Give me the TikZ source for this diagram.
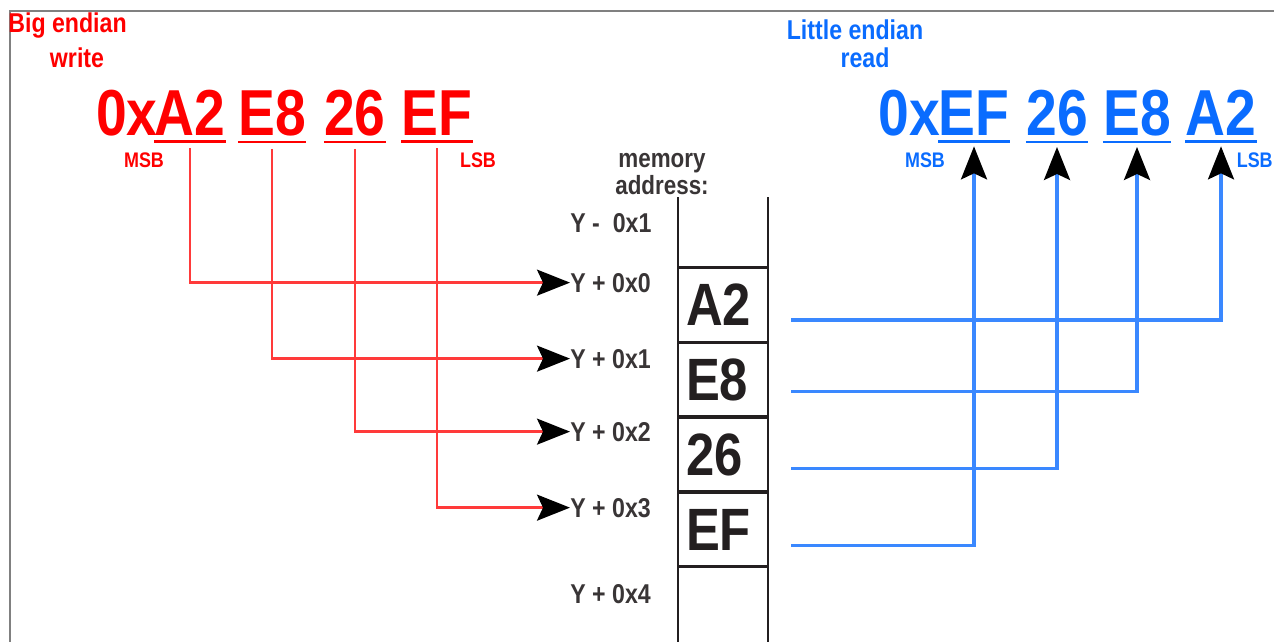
\documentclass[tikz,border=0pt]{standalone}
\usepackage{fontspec}
\setmainfont{Liberation Sans}[FakeStretch=0.85]
\usepackage{tikz}
\usetikzlibrary{arrows.meta,calc}
\definecolor{bered}{HTML}{FF0000}
\definecolor{bewire}{HTML}{FF3A3A}
\definecolor{leblue}{HTML}{0A6CFF}
\definecolor{lewire}{HTML}{3A88FF}
\definecolor{ink}{HTML}{231F20}

\begin{document}
\begin{tikzpicture}[
  x=0.02cm, y=-0.02cm,
  title/.style={anchor=base, inner sep=0, font=\fontsize{15.5}{16}\selectfont\bfseries},
  hexbyte/.style={anchor=base, inner sep=0, font=\fontsize{37}{40}\selectfont\bfseries},
  tag/.style={anchor=base, inner sep=0, font=\fontsize{12}{13}\selectfont\bfseries},
  addr/.style={anchor=base west, inner sep=0, text=ink!90, font=\fontsize{15.5}{16}\selectfont\bfseries},
  memlbl/.style={align=center, inner sep=0, text=ink!90, font=\fontsize{15}{15.9}\selectfont\bfseries},
  cell/.style={draw=ink, line width=1.6pt, minimum width=1.8cm, minimum height=1.49cm, text width=1.48cm, inner xsep=0.16cm, align=left, text=ink, font=\fontsize{34}{36}\selectfont\bfseries},
  uline/.style={line width=1.6pt},
  redarr/.style={bewire, line width=1.4pt, -{Stealth[length=0.66cm, width=0.52cm, inset=0.12cm, color=black]}},
  bluarr/.style={lewire, line width=1.9pt, -{Stealth[length=0.66cm, width=0.52cm, inset=0.12cm, color=black]}}
]
\useasboundingbox (0,0) rectangle (1274,642);
\draw[gray, line width=1.5pt] (10,642) -- (10,11) -- (1274,11);

\node[title, anchor=base west, text=bered] (bet1) at (8,33) {Big endian};
\node[title, text=bered] (bet2) at (77,68) {write};
\node[hexbyte, text=bered] (be0) at (127,135) {0x};
\node[hexbyte, text=bered] (beA2) at (190,135) {A2};
\node[hexbyte, text=bered] (beE8) at (272,135) {E8};
\node[hexbyte, text=bered] (be26) at (355,135) {26};
\node[hexbyte, text=bered] (beEF) at (437,135) {EF};
\node[tag, text=bered] (bemsb) at (144,167) {MSB};
\node[tag, text=bered] (belsb) at (478,167) {LSB};
\draw[uline, bered] ($(beA2.south west)+(0,6)$) -- ($(beA2.south east)+(0,6)$);
\draw[uline, bered] ($(beE8.south west)+(0,6)$) -- ($(beE8.south east)+(0,6)$);
\draw[uline, bered] ($(be26.south west)+(0,6)$) -- ($(be26.south east)+(0,6)$);
\draw[uline, bered] ($(beEF.south west)+(0,6)$) -- ($(beEF.south east)+(0,6)$);

\node[title, text=leblue] (let1) at (855,40) {Little endian};
\node[title, text=leblue] (let2) at (865,68) {read};
\node[hexbyte, text=leblue] (le0) at (909,135) {0x};
\node[hexbyte, text=leblue] (leEF) at (974,135) {EF};
\node[hexbyte, text=leblue] (le26) at (1057,135) {26};
\node[hexbyte, text=leblue] (leE8) at (1137,135) {E8};
\node[hexbyte, text=leblue] (leA2) at (1221,135) {A2};
\node[tag, text=leblue] (lemsb) at (925,167) {MSB};
\node[tag, anchor=base east, text=leblue] (lelsb) at (1273,167) {LSB};
\draw[uline, leblue] ($(leEF.south west)+(0,6)$) -- ($(leEF.south east)+(0,6)$);
\draw[uline, leblue] ($(le26.south west)+(0,6)$) -- ($(le26.south east)+(0,6)$);
\draw[uline, leblue] ($(leE8.south west)+(0,6)$) -- ($(leE8.south east)+(0,6)$);
\draw[uline, leblue] ($(leA2.south west)+(0,6)$) -- ($(leA2.south east)+(0,6)$);

\node[memlbl] (mem) at (662,174) {memory\\address:};
\node[addr] (am1) at (570,232) {Y -\ \ 0x1};
\node[addr] (a0) at (570,292) {Y + 0x0};
\node[addr] (a1) at (570,368) {Y + 0x1};
\node[addr] (a2) at (570,441) {Y + 0x2};
\node[addr] (a3) at (570,517) {Y + 0x3};
\node[addr] (a4) at (570,603) {Y + 0x4};

\draw[ink, line width=1.6pt] (678,197) -- (678,642);
\draw[ink, line width=1.6pt] (768,197) -- (768,642);
\node[cell] (mA2) at (723,305) {A2};
\node[cell] (mE8) at (723,379.5) {E8};
\node[cell] (m26) at (723,454.5) {26};
\node[cell] (mEF) at (723,529.5) {EF};

\draw[redarr] ($(beA2.south)+(0,13)$) |- (a0.west);
\draw[redarr] ($(beE8.south)+(0,13)$) |- (a1.west);
\draw[redarr] ($(be26.south)+(0,13)$) |- (a2.west);
\draw[redarr] ($(beEF.south)+(0,13)$) |- (a3.west);

\draw[bluarr] ($(mA2.east)+(22,15)$) -| ($(leA2.south)+(0,11)$);
\draw[bluarr] ($(mE8.east)+(22,12)$) -| ($(leE8.south)+(0,11)$);
\draw[bluarr] ($(m26.east)+(22,14)$) -| ($(le26.south)+(0,11)$);
\draw[bluarr] ($(mEF.east)+(22,16)$) -| ($(leEF.south)+(0,11)$);
\end{tikzpicture}
\end{document}
